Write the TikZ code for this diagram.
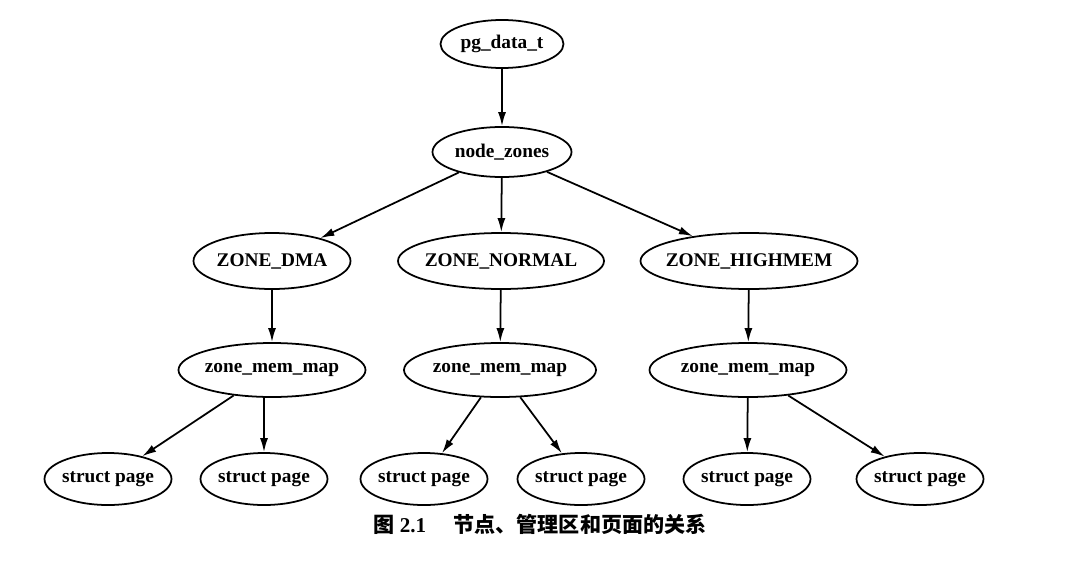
\documentclass[tikz,border=0pt]{standalone}
\usepackage{fontspec}
\setmainfont{Liberation Serif}
\newfontfamily\cjk{Noto Sans CJK SC}
\usetikzlibrary{shapes.geometric,arrows.meta}

\begin{document}
\begin{tikzpicture}[every node/.style={font=\fontsize{11}{13}\selectfont\bfseries},
  oval/.style={ellipse,draw,line width=1pt,inner ysep=0pt,inner xsep=-3.7pt},
  page/.style={oval,minimum width=2.54cm,minimum height=1.04cm},
  arr/.style={-{Latex[length=2.8mm,width=1.6mm]},line width=1pt}]
\useasboundingbox (0,0) rectangle (21.8,11.22);
\node[oval,minimum width=2.46cm,minimum height=0.96cm] (pgdata) at (10.04,10.34) {pg\_data\_t};
\node[oval,minimum width=2.78cm,minimum height=1.0cm] (nodezones) at (10.04,8.18) {node\_zones};
\node[oval,minimum width=3.14cm,minimum height=1.12cm] (dma) at (5.44,6.0) {ZONE\_DMA};
\node[oval,minimum width=4.12cm,minimum height=1.12cm] (normal) at (10.02,6.0) {ZONE\_NORMAL};
\node[oval,minimum width=4.3cm,minimum height=1.12cm] (highmem) at (14.98,6.0) {ZONE\_HIGHMEM};
\node[oval,minimum width=3.74cm,minimum height=1.08cm] (mapa) at (5.44,3.82) {zone\_mem\_map};
\node[oval,minimum width=3.84cm,minimum height=1.08cm] (mapb) at (10.0,3.82) {zone\_mem\_map};
\node[oval,minimum width=3.94cm,minimum height=1.08cm] (mapc) at (14.96,3.82) {zone\_mem\_map};
\node[page] (pa1) at (2.16,1.64) {struct page};
\node[page] (pa2) at (5.28,1.64) {struct page};
\node[page] (pb1) at (8.48,1.64) {struct page};
\node[page] (pb2) at (11.62,1.64) {struct page};
\node[page] (pc1) at (14.94,1.64) {struct page};
\node[page] (pc2) at (18.4,1.64) {struct page};
\draw[arr] (pgdata) -- (nodezones);
\draw[arr] (nodezones) -- (dma);
\draw[arr] (nodezones) -- (normal);
\draw[arr] (nodezones) -- (highmem);
\draw[arr] (dma) -- (mapa);
\draw[arr] (normal) -- (mapb);
\draw[arr] (highmem) -- (mapc);
\draw[arr] (mapa) -- (pa1);
\draw[arr] (pa2 |- mapa.south) -- (pa2);
\draw[arr] (mapb) -- (pb1);
\draw[arr] (mapb) -- (pb2);
\draw[arr] (mapc) -- (pc1);
\draw[arr] (mapc) -- (pc2);
\node[font=\fontsize{12}{14}\selectfont\bfseries] (caption) at (10.8,0.74) {{\cjk 图} 2.1\hspace{1.3em}{\cjk 节点、管理区和页面的关系}};
\end{tikzpicture}
\end{document}
